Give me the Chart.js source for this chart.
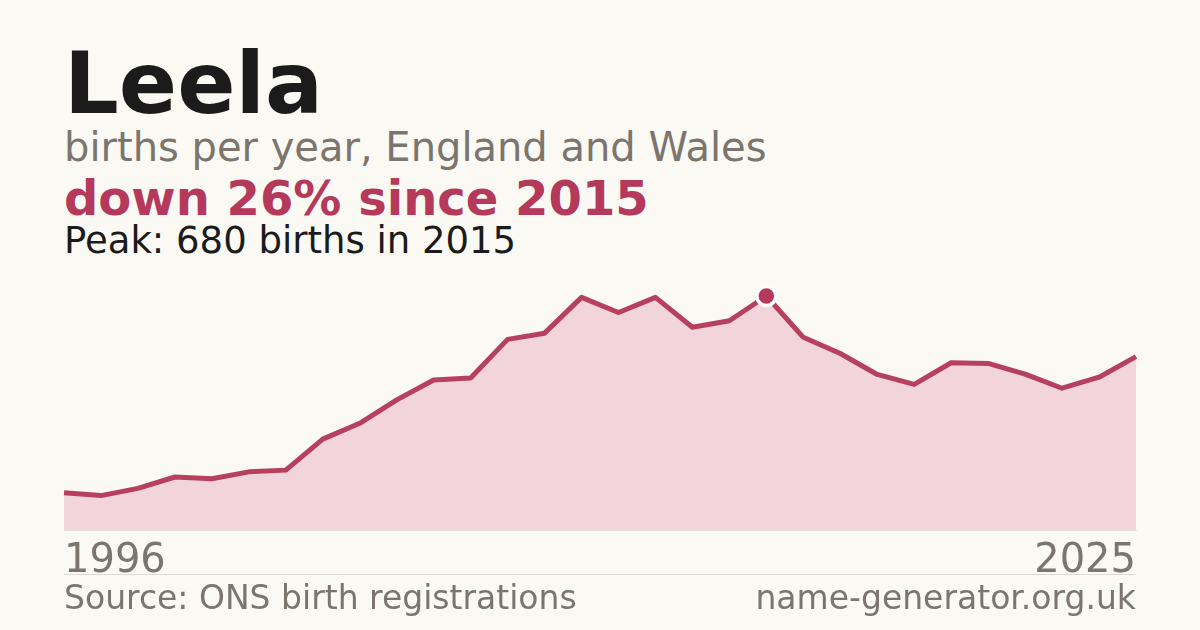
<!DOCTYPE html>
<html>
<head>
<meta charset="utf-8">
<script src="https://cdn.jsdelivr.net/npm/chart.js@4/dist/chart.umd.min.js"></script>
<style>
  html, body { margin: 0; padding: 0; }
  body { width: 1200px; height: 630px; background: #faf9f4; position: relative; overflow: hidden; font-family: 'DejaVu Sans', sans-serif; }
  .txt { position: absolute; left: 64px; line-height: 1; white-space: nowrap; }
  #title { top: 40px; font-size: 86px; font-weight: bold; color: #1b1b1b; }
  #sub { top: 127px; font-size: 40px; color: #7b756e; }
  #change { top: 174px; font-size: 48px; font-weight: bold; color: #b5395a; }
  #peak { top: 222px; font-size: 37px; color: #1b1b1b; }
  #rule { position: absolute; left: 64px; width: 1072px; top: 574px; border-top: 1px solid #dedad2; }
  .foot { position: absolute; top: 581px; font-size: 33px; line-height: 1; color: #7b756e; white-space: nowrap; }
  #source { left: 64px; }
  #site { right: 64px; }
  #chart { position: absolute; left: 0; top: 0; }
</style>
</head>
<body>
<div class="txt" id="title">Leela</div>
<div class="txt" id="sub">births per year, England and Wales</div>
<div class="txt" id="change">down 26% since 2015</div>
<div class="txt" id="peak">Peak: 680 births in 2015</div>
<canvas id="chart" width="1200" height="630"></canvas>
<div id="rule"></div>
<div class="foot" id="source">Source: ONS birth registrations</div>
<div class="foot" id="site">name-generator.org.uk</div>
<script>
const years = ['1996', '1997', '1998', '1999', '2000', '2001', '2002', '2003', '2004', '2005',
  '2006', '2007', '2008', '2009', '2010', '2011', '2012', '2013', '2014', '2015',
  '2016', '2017', '2018', '2019', '2020', '2021', '2022', '2023', '2024', '2025']
const births = [108, 100, 121, 154, 149, 169, 174, 264, 310, 378,
  436, 442, 554, 572, 676, 632, 676, 589, 608, 680,
  560, 513, 452, 423, 486, 484, 453, 412, 444, 504]
const yMin = 0
const yMax = 680

const crimson = '#b5395a'
const peakIndex = births.indexOf(Math.max(...births))

const ctx = document.querySelector('#chart')

new Chart(ctx, {
  type: 'line',
  data: {
    labels: years,
    datasets: [{
      data: births,
      borderColor: '#b8405f',
      borderWidth: 5,
      borderJoinStyle: 'round',
      backgroundColor: '#f2d5da',
      fill: 'origin',
      tension: 0,
      clip: false,
      pointRadius: (c) => c.dataIndex === peakIndex ? 9.5 : 0,
      pointHoverRadius: 0,
      pointBackgroundColor: crimson,
      pointBorderColor: '#ffffff',
      pointBorderWidth: 3.5
    }]
  },
  options: {
    responsive: false,
    animation: false,
    events: [],
    layout: { padding: { left: 64, right: 64, top: 296, bottom: 54 } },
    plugins: { legend: { display: false }, tooltip: { enabled: false } },
    scales: {
      x: {
        grid: { display: false, drawTicks: false },
        border: { display: true, color: '#e4deda', width: 1 },
        afterFit: (s) => { s.height = 46 },
        ticks: {
          autoSkip: false,
          maxRotation: 0,
          align: 'inner',
          padding: 8,
          color: '#7b756e',
          font: { family: 'DejaVu Sans', size: 40 },
          callback: function (val, i, ticks) {
            return (i === 0 || i === ticks.length - 1) ? this.getLabelForValue(val) : ''
          }
        }
      },
      y: {
        display: false,
        min: yMin,
        max: yMax
      }
    }
  }
})
</script>
</body>
</html>
